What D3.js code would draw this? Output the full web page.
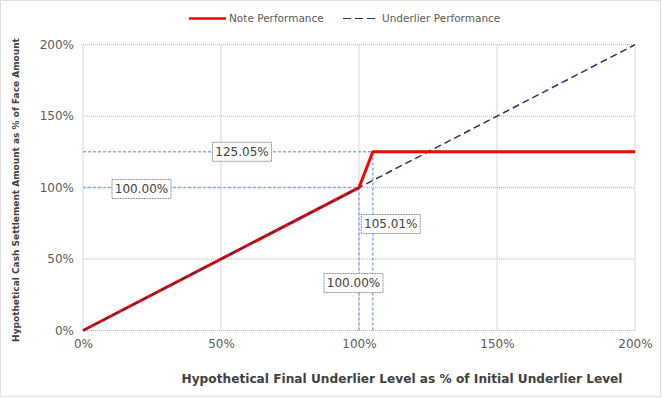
<!DOCTYPE html>
<html>
<head>
<meta charset="utf-8">
<script src="https://cdn.jsdelivr.net/npm/d3@7"></script>
<style>
  body { margin: 0; background: #fff; }
  text { font-family: "DejaVu Sans", sans-serif; }
</style>
</head>
<body>
<div id="chart"></div>
<script>
// Chart data
const xTicks = [0, 50, 100, 150, 200];
const yTicks = [0, 50, 100, 150, 200];
const noteX = [0, 100, 105.01, 200];
const noteY = [0, 100, 125.05, 125.05];
const underX = [0, 200];
const underY = [0, 200];
// reference lines: [x1, y1, x2, y2]
const refLines = [
  [0, 125.05, 105.01, 125.05],
  [0, 100, 100, 100],
  [100, 0, 100, 100],
  [105.01, 0, 105.01, 125.05]
];
const labelText = ["125.05%", "100.00%", "105.01%", "100.00%"];
const labelX = [57.6, 21.2, 111.5, 98];
const labelY = [125.05, 99, 74.5, 33.2];

const W = 662, H = 398;
const svg = d3.select("#chart").append("svg")
    .attr("width", W)
    .attr("height", H);

// outer border
svg.append("rect")
    .attr("x", 0.5).attr("y", 0.5)
    .attr("width", 660).attr("height", 396)
    .attr("fill", "none")
    .attr("stroke", "#bfbfbf")
    .attr("stroke-dasharray", "1,1");

const x = d3.scaleLinear().domain([0, 200]).range([83, 635]);
const y = d3.scaleLinear().domain([0, 200]).range([330.5, 44.7]);

// grid lines
svg.append("g").selectAll("line")
    .data(xTicks).enter().append("line")
    .attr("x1", d => x(d)).attr("x2", d => x(d))
    .attr("y1", y(0)).attr("y2", y(200))
    .attr("stroke", "#b0b0b0")
    .attr("stroke-dasharray", "1,1");
svg.append("g").selectAll("line")
    .data(yTicks).enter().append("line")
    .attr("x1", x(0)).attr("x2", x(200))
    .attr("y1", d => y(d)).attr("y2", d => y(d))
    .attr("stroke", "#b0b0b0")
    .attr("stroke-dasharray", "1,1");

// axes (labels only)
const xAxis = svg.append("g")
    .attr("transform", `translate(0,${y(0)})`)
    .call(d3.axisBottom(x).tickValues(xTicks).tickSize(0).tickPadding(9).tickFormat(d => d + "%"));
const yAxis = svg.append("g")
    .attr("transform", `translate(${x(0)},0)`)
    .call(d3.axisLeft(y).tickValues(yTicks).tickSize(0).tickPadding(9).tickFormat(d => d + "%"));
[xAxis, yAxis].forEach(a => {
  a.select(".domain").remove();
  a.selectAll("text")
    .attr("font-family", "DejaVu Sans")
    .attr("font-size", 12)
    .attr("fill", "#595959");
});

// reference lines
svg.append("g").selectAll("line")
    .data(refLines).enter().append("line")
    .attr("x1", d => x(d[0])).attr("y1", d => y(d[1]))
    .attr("x2", d => x(d[2])).attr("y2", d => y(d[3]))
    .attr("stroke", "#86ade6")
    .attr("stroke-width", 1.5)
    .attr("stroke-dasharray", "3,2");

// underlier performance
const line = d3.line().x(d => x(d[0])).y(d => y(d[1]));
svg.append("path")
    .datum(d3.zip(underX, underY))
    .attr("d", line)
    .attr("fill", "none")
    .attr("stroke", "#1f3864")
    .attr("stroke-width", 1.5)
    .attr("stroke-dasharray", "7,4");

// note performance
svg.append("path")
    .datum(d3.zip(noteX, noteY))
    .attr("d", line)
    .attr("fill", "none")
    .attr("stroke", "#ff0000")
    .attr("stroke-width", 3)
    .attr("stroke-linejoin", "round");
// underlier dashes show on top of the red segment in the reference
svg.append("path")
    .datum(d3.zip([underX[0], noteX[1]], [underY[0], noteY[1]]))
    .attr("d", line)
    .attr("fill", "none")
    .attr("stroke", "#1f3864")
    .attr("stroke-width", 1.3)
    .attr("stroke-dasharray", "7,4");

// data labels
const labels = svg.append("g").selectAll("g")
    .data(d3.range(labelText.length)).enter().append("g")
    .attr("transform", i => `translate(${x(labelX[i])},${y(labelY[i])})`);
labels.append("text")
    .attr("text-anchor", "middle")
    .attr("dy", "0.36em")
    .attr("font-size", 12)
    .attr("fill", "#404040")
    .text(i => labelText[i]);
labels.each(function() {
  const g = d3.select(this);
  const b = g.select("text").node().getBBox();
  g.insert("rect", "text")
    .attr("x", Math.round(b.x - 3) + 0.5)
    .attr("y", -9.5)
    .attr("width", Math.round(b.width + 6))
    .attr("height", 19)
    .attr("fill", "#fff")
    .attr("stroke", "#7f7f7f")
    .attr("stroke-dasharray", "1,0.6");
});

// legend
const legend = svg.append("g").attr("transform", "translate(0,18.5)");
legend.append("line")
    .attr("x1", 189).attr("x2", 226)
    .attr("stroke", "#ff0000").attr("stroke-width", 2.5);
legend.append("text")
    .attr("x", 229).attr("dy", "0.35em")
    .attr("font-size", 10.5).attr("fill", "#595959")
    .text("Note Performance");
legend.append("line")
    .attr("x1", 343).attr("x2", 379)
    .attr("stroke", "#1f3864").attr("stroke-width", 1.2)
    .attr("stroke-dasharray", "8,4");
legend.append("text")
    .attr("x", 382).attr("dy", "0.35em")
    .attr("font-size", 10.5).attr("fill", "#595959")
    .text("Underlier Performance");

// axis titles
svg.append("text")
    .attr("x", 402).attr("y", 383)
    .attr("text-anchor", "middle")
    .attr("font-size", 12).attr("font-weight", "bold")
    .attr("fill", "#404040")
    .attr("textLength", 441).attr("lengthAdjust", "spacingAndGlyphs")
    .text("Hypothetical Final Underlier Level as % of Initial Underlier Level");
svg.append("text")
    .attr("transform", "translate(19,190) rotate(-90)")
    .attr("text-anchor", "middle")
    .attr("font-size", 9).attr("font-weight", "bold")
    .attr("fill", "#404040")
    .text("Hypothetical Cash Settlement Amount as % of Face Amount");
</script>
</body>
</html>
